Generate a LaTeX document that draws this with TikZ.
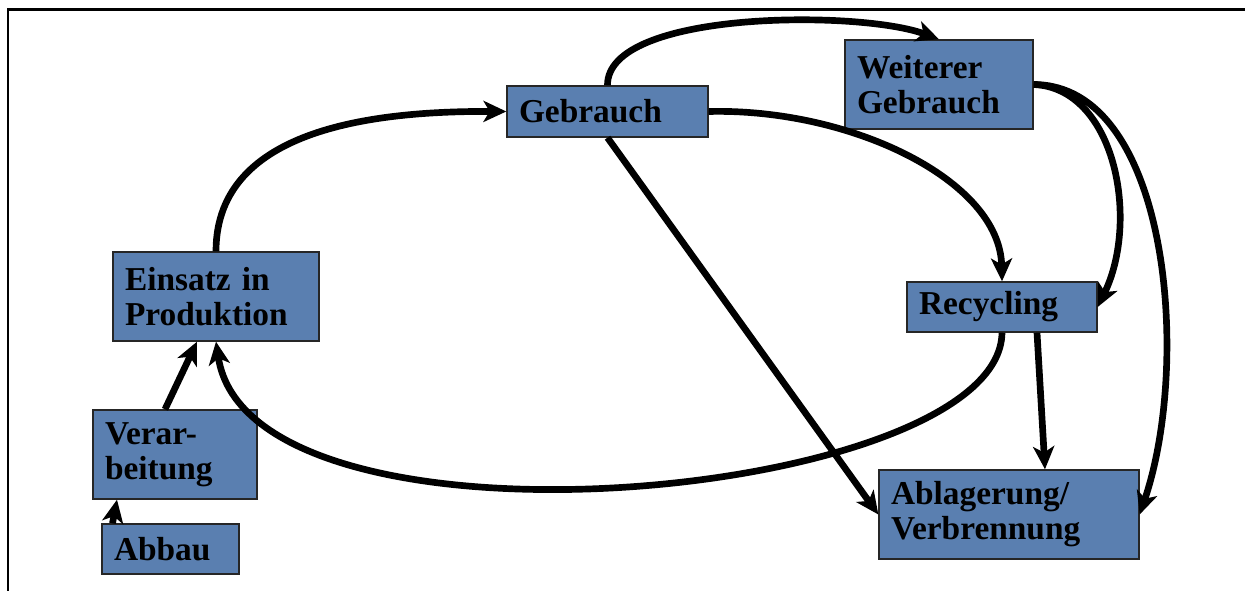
\documentclass[tikz,border=0pt]{standalone}
\usepackage{fontspec}
\setmainfont{Liberation Serif}
\usetikzlibrary{arrows.meta,calc}
\definecolor{boxblue}{RGB}{90,127,176}
\tikzset{
  box/.style={draw=black!85,line width=0.8pt,fill=boxblue,align=left,
    inner xsep=0.24cm,inner ysep=0pt,
    font=\bfseries\fontsize{19}{20}\selectfont},
  flow/.style={line width=3.8pt,arrows={-Stealth[length=13pt,width=12pt,inset=3.5pt]}}
}

\begin{document}
\begin{tikzpicture}[x=0.02cm,y=-0.02cm]
  \useasboundingbox (0,0) rectangle (1245,591);
  \draw[line width=1.7pt] (8,591) -- (8,9.5) -- (1245,9.5);
  % boxes
  \node[box,text width=3.54cm,minimum height=1.02cm] (gebrauch) at (607.5,111.5) {Gebrauch};
  \node[box,text width=3.28cm,minimum height=1.78cm] (weiter) at (939,84.5) {Weiterer\\Gebrauch};
  \node[box,text width=3.64cm,minimum height=1.78cm] (einsatz) at (216,296.5) {Einsatz in\\Produktion};
  \node[box,text width=3.32cm,minimum height=1.0cm] (recycling) at (1002,307) {Recycling};
  \node[box,text width=2.8cm,minimum height=1.78cm] (verarb) at (175,454.5) {Verar-\\beitung};
  \node[box,text width=2.26cm,minimum height=1.0cm] (abbau) at (170.5,549) {Abbau};
  \node[box,text width=4.72cm,minimum height=1.78cm] (ablagerung) at (1009,514.5) {Ablagerung/\\Verbrennung};
  % cycle
  \draw[flow] (einsatz.north) .. controls (216,126) and (381,111) .. (gebrauch.west);
  \draw[flow] (gebrauch.north) .. controls (607,10) and (860,10) .. (weiter.north);
  \draw[flow] (gebrauch.east) .. controls (850,108) and (1000,180) .. (recycling.north);
  \draw[flow] (gebrauch.south) -- (ablagerung.west);
  \draw[flow] (weiter.east) .. controls (1115,88) and (1140,220) .. (recycling.east);
  \draw[flow] (weiter.east) .. controls (1168,85) and (1192,360) .. (ablagerung.east);
  \draw[flow] ($(recycling.south)+(35,0)$) -- ($(ablagerung.north)+(36,0)$);
  \draw[flow] (recycling.south) .. controls (1000,500) and (250,570) .. (einsatz.south);
  % raw material
  \draw[flow] ($(verarb.north)+(-10,0)$) -- ($(einsatz.south)+(-19,0)$);
  \draw[flow] ($(abbau.north)+(-58,0)$) -- ($(verarb.south)+(-58,0)$);
\end{tikzpicture}
\end{document}
